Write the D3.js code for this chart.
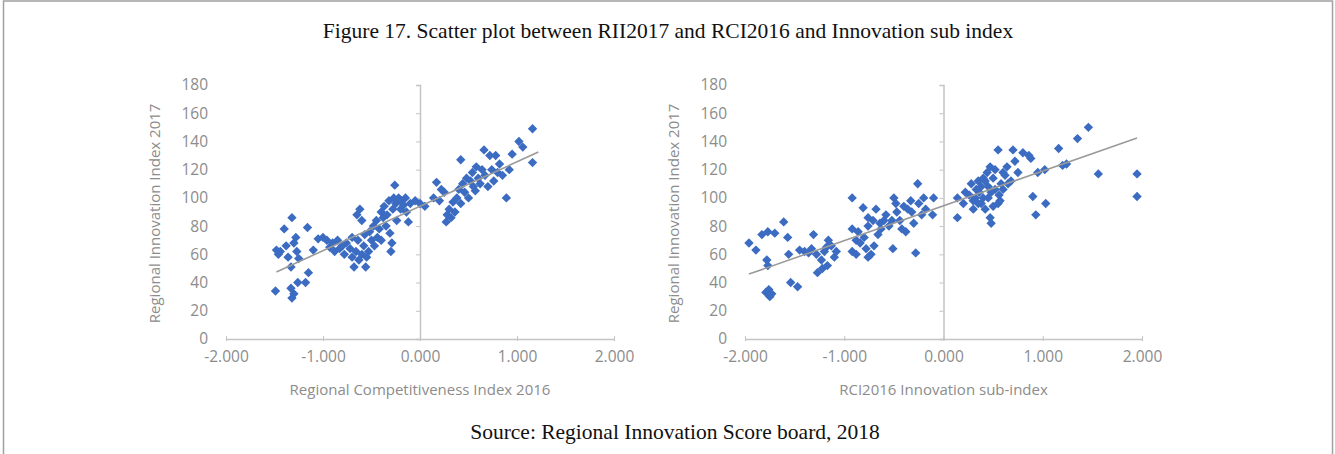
<!DOCTYPE html>
<html>
<head>
<meta charset="utf-8">
<script src="https://cdn.jsdelivr.net/npm/d3@7"></script>
<style>
  body { margin: 0; background: #fff; }
  svg text { font-family: "Open Sans", "DejaVu Sans", sans-serif; }
</style>
</head>
<body>
<script>
// RCI2016 vs RII2017
var leftPoints = [
    [-1.49,34],[-1.48,63],[-1.46,60],[-1.44,62],[-1.40,78],[-1.38,66],[-1.36,58],[-1.32,86],
    [-1.30,68],[-1.28,72],[-1.27,62],[-1.25,57],[-1.33,51],[-1.33,36],[-1.32,29],[-1.30,32],
    [-1.26,40],[-1.18,40],[-1.15,47],[-1.16,79],[-1.10,63],[-1.05,71],
    [-1.00,72],[-0.96,70],[-0.93,65],[-0.90,68],[-0.88,62],[-0.85,70],[-0.83,64],[-0.80,66],
    [-0.78,60],[-0.76,68],[-0.72,64],[-0.70,58],[-0.70,72],[-0.68,51],[-0.66,62],[-0.65,88],
    [-0.62,92],[-0.60,84],[-0.64,70],[-0.63,56],[-0.60,60],[-0.58,66],[-0.56,51],[-0.57,74],
    [-0.55,58],[-0.53,62],[-0.52,76],[-0.50,70],[-0.48,80],[-0.47,66],[-0.45,84],[-0.44,72],
    [-0.42,78],[-0.40,90],[-0.40,70],[-0.38,86],[-0.37,94],[-0.35,80],[-0.34,88],[-0.32,98],
    [-0.31,75],[-0.30,62],[-0.29,68],[-0.28,92],[-0.27,100],[-0.26,109],[-0.25,96],[-0.24,84],
    [-0.22,100],[-0.20,92],[-0.19,98],[-0.17,95],[-0.15,100],[-0.14,90],[-0.12,83],[-0.10,96],
    [-0.05,98],[0.00,96],[0.05,94],[0.14,100],[0.17,111],[0.20,98],[0.22,106],[0.25,104],
    [0.27,83],[0.28,88],[0.30,92],[0.32,86],[0.34,97],[0.36,90],[0.38,100],[0.40,106],
    [0.42,127],[0.42,96],[0.44,110],[0.46,104],[0.48,114],[0.50,100],
    [0.52,112],[0.54,118],[0.55,108],[0.57,105],[0.58,122],[0.60,114],[0.62,110],[0.64,120],
    [0.66,134],[0.67,116],[0.70,108],[0.72,130],[0.74,120],[0.76,112],[0.78,130],[0.80,118],
    [0.82,124],[0.85,116],[0.89,100],[0.92,120],[0.95,131],[1.02,140],[1.06,136],[1.16,149],
    [1.16,125]
];

// RCI2016 innovation sub-index vs RII2017
var rightPoints = [
    [-1.96,68],[-1.89,63],[-1.83,74],[-1.77,76],[-1.70,75],[-1.78,56],[-1.77,52],[-1.79,33],
    [-1.75,30],[-1.73,32],[-1.76,35],[-1.61,83],[-1.57,72],[-1.56,60],[-1.54,40],[-1.47,37],
    [-1.45,63],[-1.40,62],[-1.36,61],[-1.31,74],[-1.33,64],[-1.28,60],[-1.23,56],[-1.18,65],
    [-1.16,70],[-1.10,58],[-1.08,62],[-1.27,47],[-1.22,50],[-1.17,52],[-1.20,62],[-1.13,66],
    [-0.92,100],[-0.92,78],[-0.88,70],[-0.92,62],[-0.88,60],[-0.84,68],[-0.80,72],[-0.76,80],
    [-0.81,93],[-0.76,86],[-0.71,84],[-0.70,66],[-0.73,60],[-0.76,58],[-0.68,92],[-0.66,74],
    [-0.63,78],[-0.60,84],[-0.58,88],[-0.50,100],[-0.51,64],[-0.52,84],[-0.47,90],[-0.44,84],
    [-0.42,78],[-0.38,76],[-0.36,92],[-0.33,98],[-0.30,82],[-0.28,61],[-0.26,110],[-0.25,96],
    [-0.22,88],[-0.18,92],[-0.10,100],[-0.11,88],[-0.86,76],[-0.78,64],[-0.64,82],[-0.55,80],
    [-0.48,96],[-0.40,94],[-0.32,90],[-0.20,100],
    [0.14,100],[0.14,86],[0.20,96],[0.26,102],[0.30,98],[0.33,106],[0.36,104],[0.40,100],
    [0.42,112],[0.45,108],[0.47,122],[0.50,114],[0.52,106],[0.55,134],[0.58,110],[0.60,118],
    [0.62,116],[0.65,110],[0.70,134],[0.72,126],[0.75,118],[0.80,132],[0.86,130],[0.88,128],
    [0.50,94],[0.47,86],[0.48,82],[0.55,96],[0.57,98],[0.38,96],[0.42,92],[0.90,101],
    [0.93,88],[1.03,96],[0.95,118],[1.02,120],[1.16,135],[1.20,123],[1.24,124],[1.35,142],
    [1.46,150],[1.56,117],[1.95,117],[1.95,101],
    [0.22,104],[0.28,110],[0.32,100],[0.35,112],[0.38,108],[0.44,118],[0.48,104],[0.52,120],
    [0.56,102],[0.60,106],[0.64,122],[0.68,112],[0.30,92],[0.35,96],[0.40,114],[0.45,100]
];

// fitted lines (two end points each)
var leftTrend = [[-1.48, 47.5], [1.22, 132.5]];
var rightTrend = [[-1.96, 46], [1.95, 142.5]];

var xTicks = [-2, -1, 0, 1, 2];
var yTicks = [0, 20, 40, 60, 80, 100, 120, 140, 160, 180];

var titleText = "Figure 17. Scatter plot between RII2017 and RCI2016 and Innovation sub index";
var sourceText = "Source: Regional Innovation Score board, 2018";
var yTitle = "Regional Innovation Index 2017";
var leftXTitle = "Regional Competitiveness Index 2016";
var rightXTitle = "RCI2016 Innovation sub-index";

(function() {
    var width = 1335,
        height = 454,
        axisColor = "#c4c4c4",
        textColor = "#8c8c8c",
        dotColor = "#3b6cc2";

    var svg = d3.select("body").append("svg")
        .attr("width", width)
        .attr("height", height);

    // frame
    svg.append("rect")
        .attr("x", 3.5).attr("y", 1)
        .attr("width", 1329).attr("height", 460)
        .attr("fill", "none")
        .attr("stroke", "#a0a0a0")
        .attr("stroke-width", 1.5);

    svg.append("text")
        .attr("x", 668).attr("y", 38)
        .attr("text-anchor", "middle")
        .style("font-family", "'Liberation Serif', 'Times New Roman', serif")
        .style("font-size", "21.5px")
        .attr("fill", "#111")
        .text(titleText);

    svg.append("text")
        .attr("x", 675).attr("y", 439)
        .attr("text-anchor", "middle")
        .style("font-family", "'Liberation Serif', 'Times New Roman', serif")
        .style("font-size", "21.5px")
        .attr("fill", "#111")
        .text(sourceText);

    function drawPanel(points, trend, x0, x1, xTitle) {
        var x = d3.scaleLinear().domain([-2, 2]).range([x0, x1]),
            y = d3.scaleLinear().domain([0, 180]).range([339, 85]);

        var g = svg.append("g");

        // horizontal axis at y = 0
        var xAxis = g.append("g")
            .attr("transform", "translate(0," + y(0) + ")")
            .call(d3.axisBottom(x).tickValues(xTicks).tickSize(0).tickPadding(12)
                .tickFormat(d3.format(".3f")));
        xAxis.select(".domain").attr("stroke", axisColor).attr("stroke-width", 1.5);
        xAxis.selectAll("text")
            .attr("fill", textColor)
            .style("font-size", "15.5px")
            .text(function(d) { return d3.format(".3f")(d).replace("−", "-"); });
        xAxis.selectAll(".tick").append("line")
            .attr("y1", -3).attr("y2", 2)
            .attr("stroke", axisColor);

        // vertical axis crossing at x = 0, labels at the left edge
        var yAxis = g.append("g")
            .attr("transform", "translate(" + x(0) + ",0)")
            .call(d3.axisLeft(y).tickValues(yTicks).tickSize(4).tickFormat(""));
        yAxis.select(".domain").attr("stroke", axisColor).attr("stroke-width", 1.5);
        yAxis.selectAll(".tick line").attr("stroke", axisColor);

        g.selectAll(".ylab")
            .data(yTicks)
            .enter().append("text")
            .attr("class", "ylab")
            .attr("x", x0 - 18)
            .attr("y", function(d) { return y(d); })
            .attr("dy", "0.35em")
            .attr("text-anchor", "end")
            .attr("fill", textColor)
            .style("font-size", "15.5px")
            .text(function(d) { return d; });

        g.append("text")
            .attr("transform", "translate(" + (x0 - 66) + "," + y(89) + ") rotate(-90)")
            .attr("text-anchor", "middle")
            .attr("fill", textColor)
            .style("font-size", "15px")
            .text(yTitle);

        g.append("text")
            .attr("x", x(0))
            .attr("y", 395)
            .attr("text-anchor", "middle")
            .attr("fill", textColor)
            .style("font-size", "15px")
            .text(xTitle);

        g.selectAll(".dot")
            .data(points)
            .enter().append("path")
            .attr("class", "dot")
            .attr("d", d3.symbol().type(d3.symbolDiamond2).size(56))
            .attr("transform", function(d) {
                return "translate(" + x(d[0]) + "," + y(d[1]) + ")";
            })
            .attr("fill", dotColor);

        g.append("path")
            .datum(trend)
            .attr("d", d3.line()
                .x(function(d) { return x(d[0]); })
                .y(function(d) { return y(d[1]); }))
            .attr("fill", "none")
            .attr("stroke", "#9a9a9a")
            .attr("stroke-width", 1.6);
    }

    drawPanel(leftPoints, leftTrend, 226, 614, leftXTitle);
    drawPanel(rightPoints, rightTrend, 745, 1142, rightXTitle);
})();
</script>
</body>
</html>
